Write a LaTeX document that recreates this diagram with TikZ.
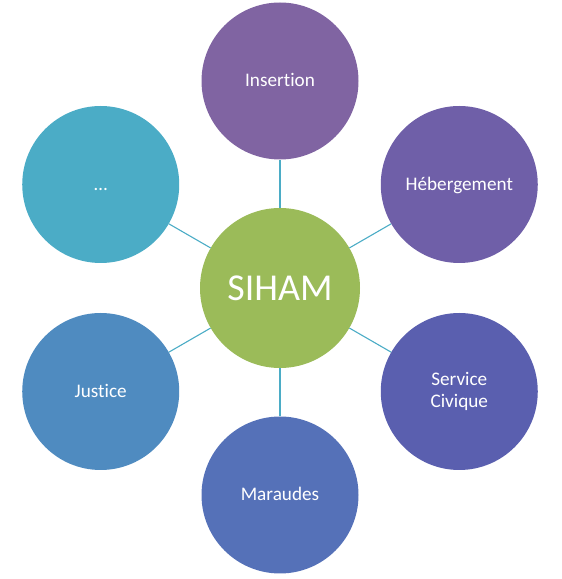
\documentclass[tikz,border=0pt]{standalone}
\usepackage{fontspec}
\setmainfont{Carlito}[Ligatures=NoCommon]
\usepackage{xcolor}
\usepackage{tikz}
\usetikzlibrary{calc}
\definecolor{hubgreen}{HTML}{9BBB59}
\definecolor{cinsert}{HTML}{8064A2}
\definecolor{cheberg}{HTML}{6F5FA8}
\definecolor{cservice}{HTML}{5A5FAF}
\definecolor{cmaraude}{HTML}{5571B8}
\definecolor{cjustice}{HTML}{4F8BC0}
\definecolor{cother}{HTML}{4BACC6}
\definecolor{spokeblue}{HTML}{4BACC6}
\tikzset{
  every node/.style={text=white},
  % hub in the middle, petals all round it; the petal argument is its fill
  hub/.style={circle, fill=hubgreen, minimum size=160pt, inner sep=0pt,
              font=\fontsize{38}{44}\selectfont},
  petal/.style={circle, fill=#1, minimum size=157pt, inner sep=0pt, align=center,
                font=\fontsize{19.2}{22}\selectfont},
  oneline/.style={text height=12pt, text depth=0pt},
  twoline/.style={},
  spoke/.style={draw=spokeblue, line width=1.1pt},
}

\begin{document}
\begin{tikzpicture}[x=1pt,y=1pt]
  \useasboundingbox (0,0) rectangle (562,579);
  \def\R{207}
  \node[hub] (siham) at (280,291) {SIHAM};

  % petals, counter-clockwise from the top
  \foreach \a/\n/\c/\t/\o in {
      90/insertion/cinsert/Insertion/oneline,
      30/hebergement/cheberg/H\'ebergement/oneline,
      -30/service/cservice/{Service\\Civique}/twoline,
      -90/maraudes/cmaraude/Maraudes/oneline,
      210/justice/cjustice/Justice/oneline,
      150/autres/cother/\ldots/oneline}{
    \node[petal=\c, \o] (\n) at ($(siham)+(\a:\R)$) {\t};
    \draw[spoke] (siham) -- (\n);
  }
\end{tikzpicture}
\end{document}
